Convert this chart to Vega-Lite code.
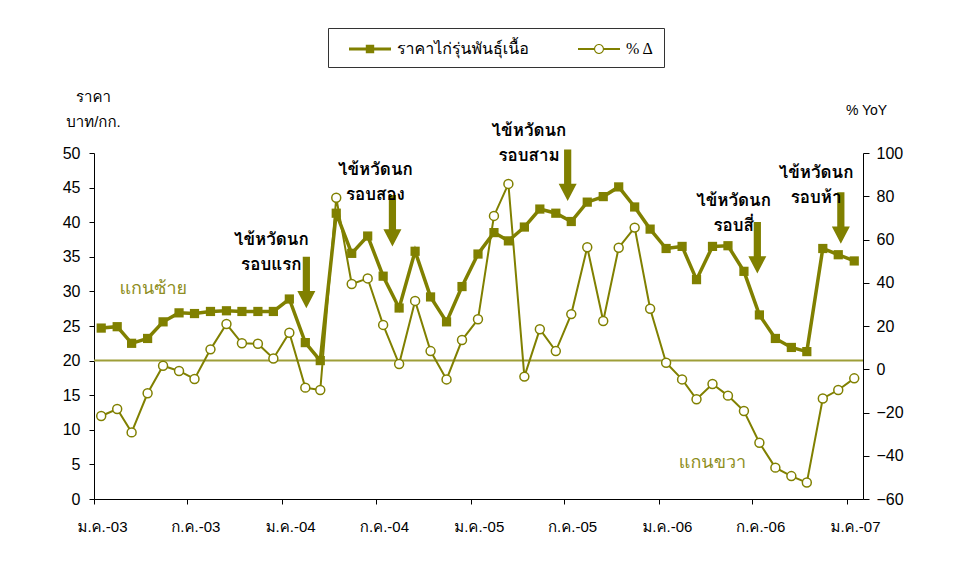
{
  "$schema": "https://vega.github.io/schema/vega-lite/v6.json",
  "autosize": "none",
  "width": 769,
  "height": 346,
  "padding": {"left": 94, "top": 153, "right": 92, "bottom": 71},
  "background": "white",
  "config": {
    "view": {"stroke": null},
    "font": "Liberation Sans, Loma, Garuda, Noto Sans Thai Looped, Noto Serif Thai, sans-serif",
    "axis": {"domainColor": "#000", "tickColor": "#000", "labelColor": "#000", "titleColor": "#000", "labelFont": "Liberation Sans, Loma, Garuda, Noto Sans Thai Looped, sans-serif", "titleFont": "Liberation Sans, Loma, Garuda, Noto Sans Thai Looped, sans-serif", "titleFontWeight": "normal", "grid": false, "domainWidth": 1, "tickWidth": 1, "labelOverlap": false}
  },
  "datasets": {
    "series": [
      {"date": "2003-01-15", "price": 24.7, "pct": -21.6},
      {"date": "2003-02-15", "price": 24.9, "pct": -18.4},
      {"date": "2003-03-15", "price": 22.5, "pct": -29.2},
      {"date": "2003-04-15", "price": 23.2, "pct": -11.1},
      {"date": "2003-05-15", "price": 25.6, "pct": 1.6},
      {"date": "2003-06-15", "price": 26.9, "pct": -0.8},
      {"date": "2003-07-15", "price": 26.8, "pct": -4.5},
      {"date": "2003-08-15", "price": 27.1, "pct": 9.2},
      {"date": "2003-09-15", "price": 27.2, "pct": 20.9},
      {"date": "2003-10-15", "price": 27.1, "pct": 12.0},
      {"date": "2003-11-15", "price": 27.1, "pct": 11.8},
      {"date": "2003-12-15", "price": 27.1, "pct": 5.0},
      {"date": "2004-01-15", "price": 28.9, "pct": 16.9},
      {"date": "2004-02-15", "price": 22.6, "pct": -8.5},
      {"date": "2004-03-15", "price": 20.0, "pct": -9.6},
      {"date": "2004-04-15", "price": 41.3, "pct": 79.3},
      {"date": "2004-05-15", "price": 35.5, "pct": 39.4},
      {"date": "2004-06-15", "price": 38.0, "pct": 42.0},
      {"date": "2004-07-15", "price": 32.2, "pct": 20.5},
      {"date": "2004-08-15", "price": 27.6, "pct": 2.4},
      {"date": "2004-09-15", "price": 35.8, "pct": 31.6},
      {"date": "2004-10-15", "price": 29.2, "pct": 8.4},
      {"date": "2004-11-15", "price": 25.6, "pct": -4.7},
      {"date": "2004-12-15", "price": 30.7, "pct": 13.5},
      {"date": "2005-01-15", "price": 35.4, "pct": 23.1},
      {"date": "2005-02-15", "price": 38.5, "pct": 70.9},
      {"date": "2005-03-15", "price": 37.3, "pct": 85.7},
      {"date": "2005-04-15", "price": 39.3, "pct": -3.4},
      {"date": "2005-05-15", "price": 41.9, "pct": 18.5},
      {"date": "2005-06-15", "price": 41.3, "pct": 8.4},
      {"date": "2005-07-15", "price": 40.1, "pct": 25.5},
      {"date": "2005-08-15", "price": 42.9, "pct": 56.4},
      {"date": "2005-09-15", "price": 43.7, "pct": 22.3},
      {"date": "2005-10-15", "price": 45.1, "pct": 56.2},
      {"date": "2005-11-15", "price": 42.2, "pct": 65.5},
      {"date": "2005-12-15", "price": 39.0, "pct": 28.0},
      {"date": "2006-01-15", "price": 36.2, "pct": 3.0},
      {"date": "2006-02-15", "price": 36.5, "pct": -4.7},
      {"date": "2006-03-15", "price": 31.7, "pct": -13.9},
      {"date": "2006-04-15", "price": 36.5, "pct": -6.8},
      {"date": "2006-05-15", "price": 36.6, "pct": -12.2},
      {"date": "2006-06-15", "price": 32.9, "pct": -19.3},
      {"date": "2006-07-15", "price": 26.6, "pct": -34.0},
      {"date": "2006-08-15", "price": 23.2, "pct": -45.5},
      {"date": "2006-09-15", "price": 21.9, "pct": -49.4},
      {"date": "2006-10-15", "price": 21.3, "pct": -52.4},
      {"date": "2006-11-15", "price": 36.2, "pct": -13.5},
      {"date": "2006-12-15", "price": 35.3, "pct": -9.6},
      {"date": "2007-01-15", "price": 34.4, "pct": -4.2}
    ],
    "notes": [
      {"date": "2003-12-11", "lv": 37.4, "label": "ไข้หวัดนก\nรอบแรก"},
      {"date": "2004-06-30", "lv": 47.5, "label": "ไข้หวัดนก\nรอบสอง"},
      {"date": "2005-04-24", "lv": 53.2, "label": "ไข้หวัดนก\nรอบสาม"},
      {"date": "2006-05-26", "lv": 43.1, "label": "ไข้หวัดนก\nรอบสี่"},
      {"date": "2006-11-02", "lv": 47.1, "label": "ไข้หวัดนก\nรอบห้า"}
    ],
    "arrows": [
      {"date": "2004-02-17", "lv": 31.3},
      {"date": "2004-08-02", "lv": 40.2},
      {"date": "2005-07-08", "lv": 46.8},
      {"date": "2006-07-11", "lv": 36.3},
      {"date": "2006-12-20", "lv": 40.6}
    ],
    "sides": [
      {"date": "2003-04-26", "lv": 30.3, "label": "แกนซ้าย"},
      {"date": "2006-04-15", "lv": 5.2, "label": "แกนขวา"}
    ],
    "baseline": [{"lv": 20}]
  },
  "layer": [
    {
      "layer": [
        {
          "data": {"name": "series"},
          "mark": {"type": "line", "color": "#808000", "strokeWidth": 3.5},
          "encoding": {
            "x": {
              "field": "date", "type": "temporal",
              "scale": {"type": "utc", "domain": [{"year": 2003, "month": 1, "date": 1, "utc": true}, {"year": 2007, "month": 2, "date": 1, "utc": true}], "nice": false},
              "axis": {
                "title": null,
                "values": [
                  {"year": 2003, "month": 1, "date": 1, "utc": true},
                  {"year": 2003, "month": 7, "date": 1, "utc": true},
                  {"year": 2004, "month": 1, "date": 1, "utc": true},
                  {"year": 2004, "month": 7, "date": 1, "utc": true},
                  {"year": 2005, "month": 1, "date": 1, "utc": true},
                  {"year": 2005, "month": 7, "date": 1, "utc": true},
                  {"year": 2006, "month": 1, "date": 1, "utc": true},
                  {"year": 2006, "month": 7, "date": 1, "utc": true},
                  {"year": 2007, "month": 1, "date": 1, "utc": true}
                ],
                "labelExpr": "(utcmonth(datum.value) == 0 ? 'ม.ค.-' : 'ก.ค.-') + utcFormat(datum.value, '%y')",
                "labelFontSize": 15,
                "labelOffset": 8,
                "labelPadding": 15,
                "tickSize": 5,
                "labelFlush": false,
                "labelOverlap": false
              }
            },
            "y": {
              "field": "price", "type": "quantitative",
              "scale": {"domain": [0, 50], "nice": false, "zero": false},
              "axis": {
                "title": ["ราคา", "บาท/กก."],
                "titleAngle": 0, "titleAlign": "center", "titleBaseline": "middle",
                "titleX": -1, "titleY": -57, "titleFontSize": 15, "titleLineHeight": 25,
                "values": [0, 5, 10, 15, 20, 25, 30, 35, 40, 45, 50],
                "tickCount": 11,
                "labelFontSize": 16, "tickSize": 5, "labelPadding": 9, "labelOverlap": false, "labelBound": false
              }
            }
          }
        },
        {
          "data": {"name": "baseline"},
          "mark": {"type": "rule", "color": "#9E9E38", "strokeWidth": 2},
          "encoding": {
            "y": {"field": "lv", "type": "quantitative"}
          }
        },
        {
          "data": {"name": "series"},
          "mark": {"type": "point", "shape": "square", "filled": true, "color": "#808000", "size": 85, "opacity": 1},
          "encoding": {
            "x": {"field": "date", "type": "temporal"},
            "y": {"field": "price", "type": "quantitative"}
          }
        },
        {
          "data": {"name": "arrows"},
          "mark": {"type": "point", "shape": "M-0.14,-1L0.14,-1L0.14,0.33L0.35,0.33L0,1L-0.35,0.33L-0.14,0.33Z", "size": 2650, "filled": true, "color": "#808000", "opacity": 1, "strokeWidth": 0},
          "encoding": {
            "x": {"field": "date", "type": "temporal"},
            "y": {"field": "lv", "type": "quantitative"}
          }
        },
        {
          "data": {"name": "notes"},
          "mark": {"type": "text", "fontSize": 17, "fontWeight": "bold", "color": "#000", "lineBreak": "\n", "lineHeight": 25, "align": "center", "baseline": "middle"},
          "encoding": {
            "x": {"field": "date", "type": "temporal"},
            "y": {"field": "lv", "type": "quantitative"},
            "text": {"field": "label"}
          }
        },
        {
          "data": {"name": "sides"},
          "mark": {"type": "text", "fontSize": 18, "color": "#8E8E22", "align": "center", "baseline": "middle"},
          "encoding": {
            "x": {"field": "date", "type": "temporal"},
            "y": {"field": "lv", "type": "quantitative"},
            "text": {"field": "label"}
          }
        },
        {
          "data": {"name": "series"},
          "transform": [{"filter": "false"}],
          "mark": {"type": "point", "filled": true, "color": "#808000", "opacity": 1},
          "encoding": {
            "x": {"field": "date", "type": "temporal"},
            "y": {"field": "price", "type": "quantitative"},
            "shape": {
              "field": "series", "type": "nominal",
              "scale": {"domain": ["ราคาไก่รุ่นพันธุ์เนื้อ", "% Δ"], "range": ["M-2.1,-0.15H2.1V0.15H-2.1ZM-0.42,-0.42H0.42V0.42H-0.42Z", "M-2.1,-0.1H-0.45V0.1H-2.1ZM0.45,-0.1H2.1V0.1H0.45ZM-0.5,0A0.5,0.5 0 1,1 0.5,0A0.5,0.5 0 1,1 -0.5,0ZM-0.39,0A0.39,0.39 0 1,0 0.39,0A0.39,0.39 0 1,0 -0.39,0Z"]},
              "legend": {
                "title": null, "orient": "none", "legendX": 234, "legendY": -125,
                "direction": "horizontal", "columns": 2,
                "strokeColor": "#333", "fillColor": "white", "padding": 10,
                "symbolSize": 400, "symbolOffset": 21, "labelOffset": 16, "columnPadding": 38,
                "labelFontSize": 16, "labelFont": "Liberation Serif, Loma, Garuda, Noto Sans Thai Looped, sans-serif", "labelColor": "#000", "labelLimit": 300,
                "symbolFillColor": "#808000", "symbolOpacity": 1
              }
            }
          }
        }
      ]
    },
    {
      "data": {"name": "series"},
      "layer": [
        {
          "mark": {"type": "line", "color": "#808000", "strokeWidth": 2},
          "encoding": {
            "x": {"field": "date", "type": "temporal"},
            "y": {
              "field": "pct", "type": "quantitative",
              "scale": {"domain": [-60, 100], "nice": false, "zero": false},
              "axis": {
                "orient": "right",
                "title": "% YoY",
                "titleAngle": 0, "titleAlign": "center", "titleBaseline": "middle",
                "titleX": 3, "titleY": -43, "titleFontSize": 14,
                "values": [-60, -40, -20, 0, 20, 40, 60, 80, 100],
                "labelFontSize": 16, "tickSize": 6, "labelPadding": 7, "labelOverlap": false
              }
            }
          }
        },
        {
          "mark": {"type": "point", "shape": "circle", "filled": true, "fill": "white", "stroke": "#808000", "strokeWidth": 1.5, "size": 80, "opacity": 1},
          "encoding": {
            "x": {"field": "date", "type": "temporal"},
            "y": {"field": "pct", "type": "quantitative"}
          }
        }
      ]
    }
  ],
  "resolve": {"scale": {"y": "independent"}, "axis": {"y": "independent"}}
}
